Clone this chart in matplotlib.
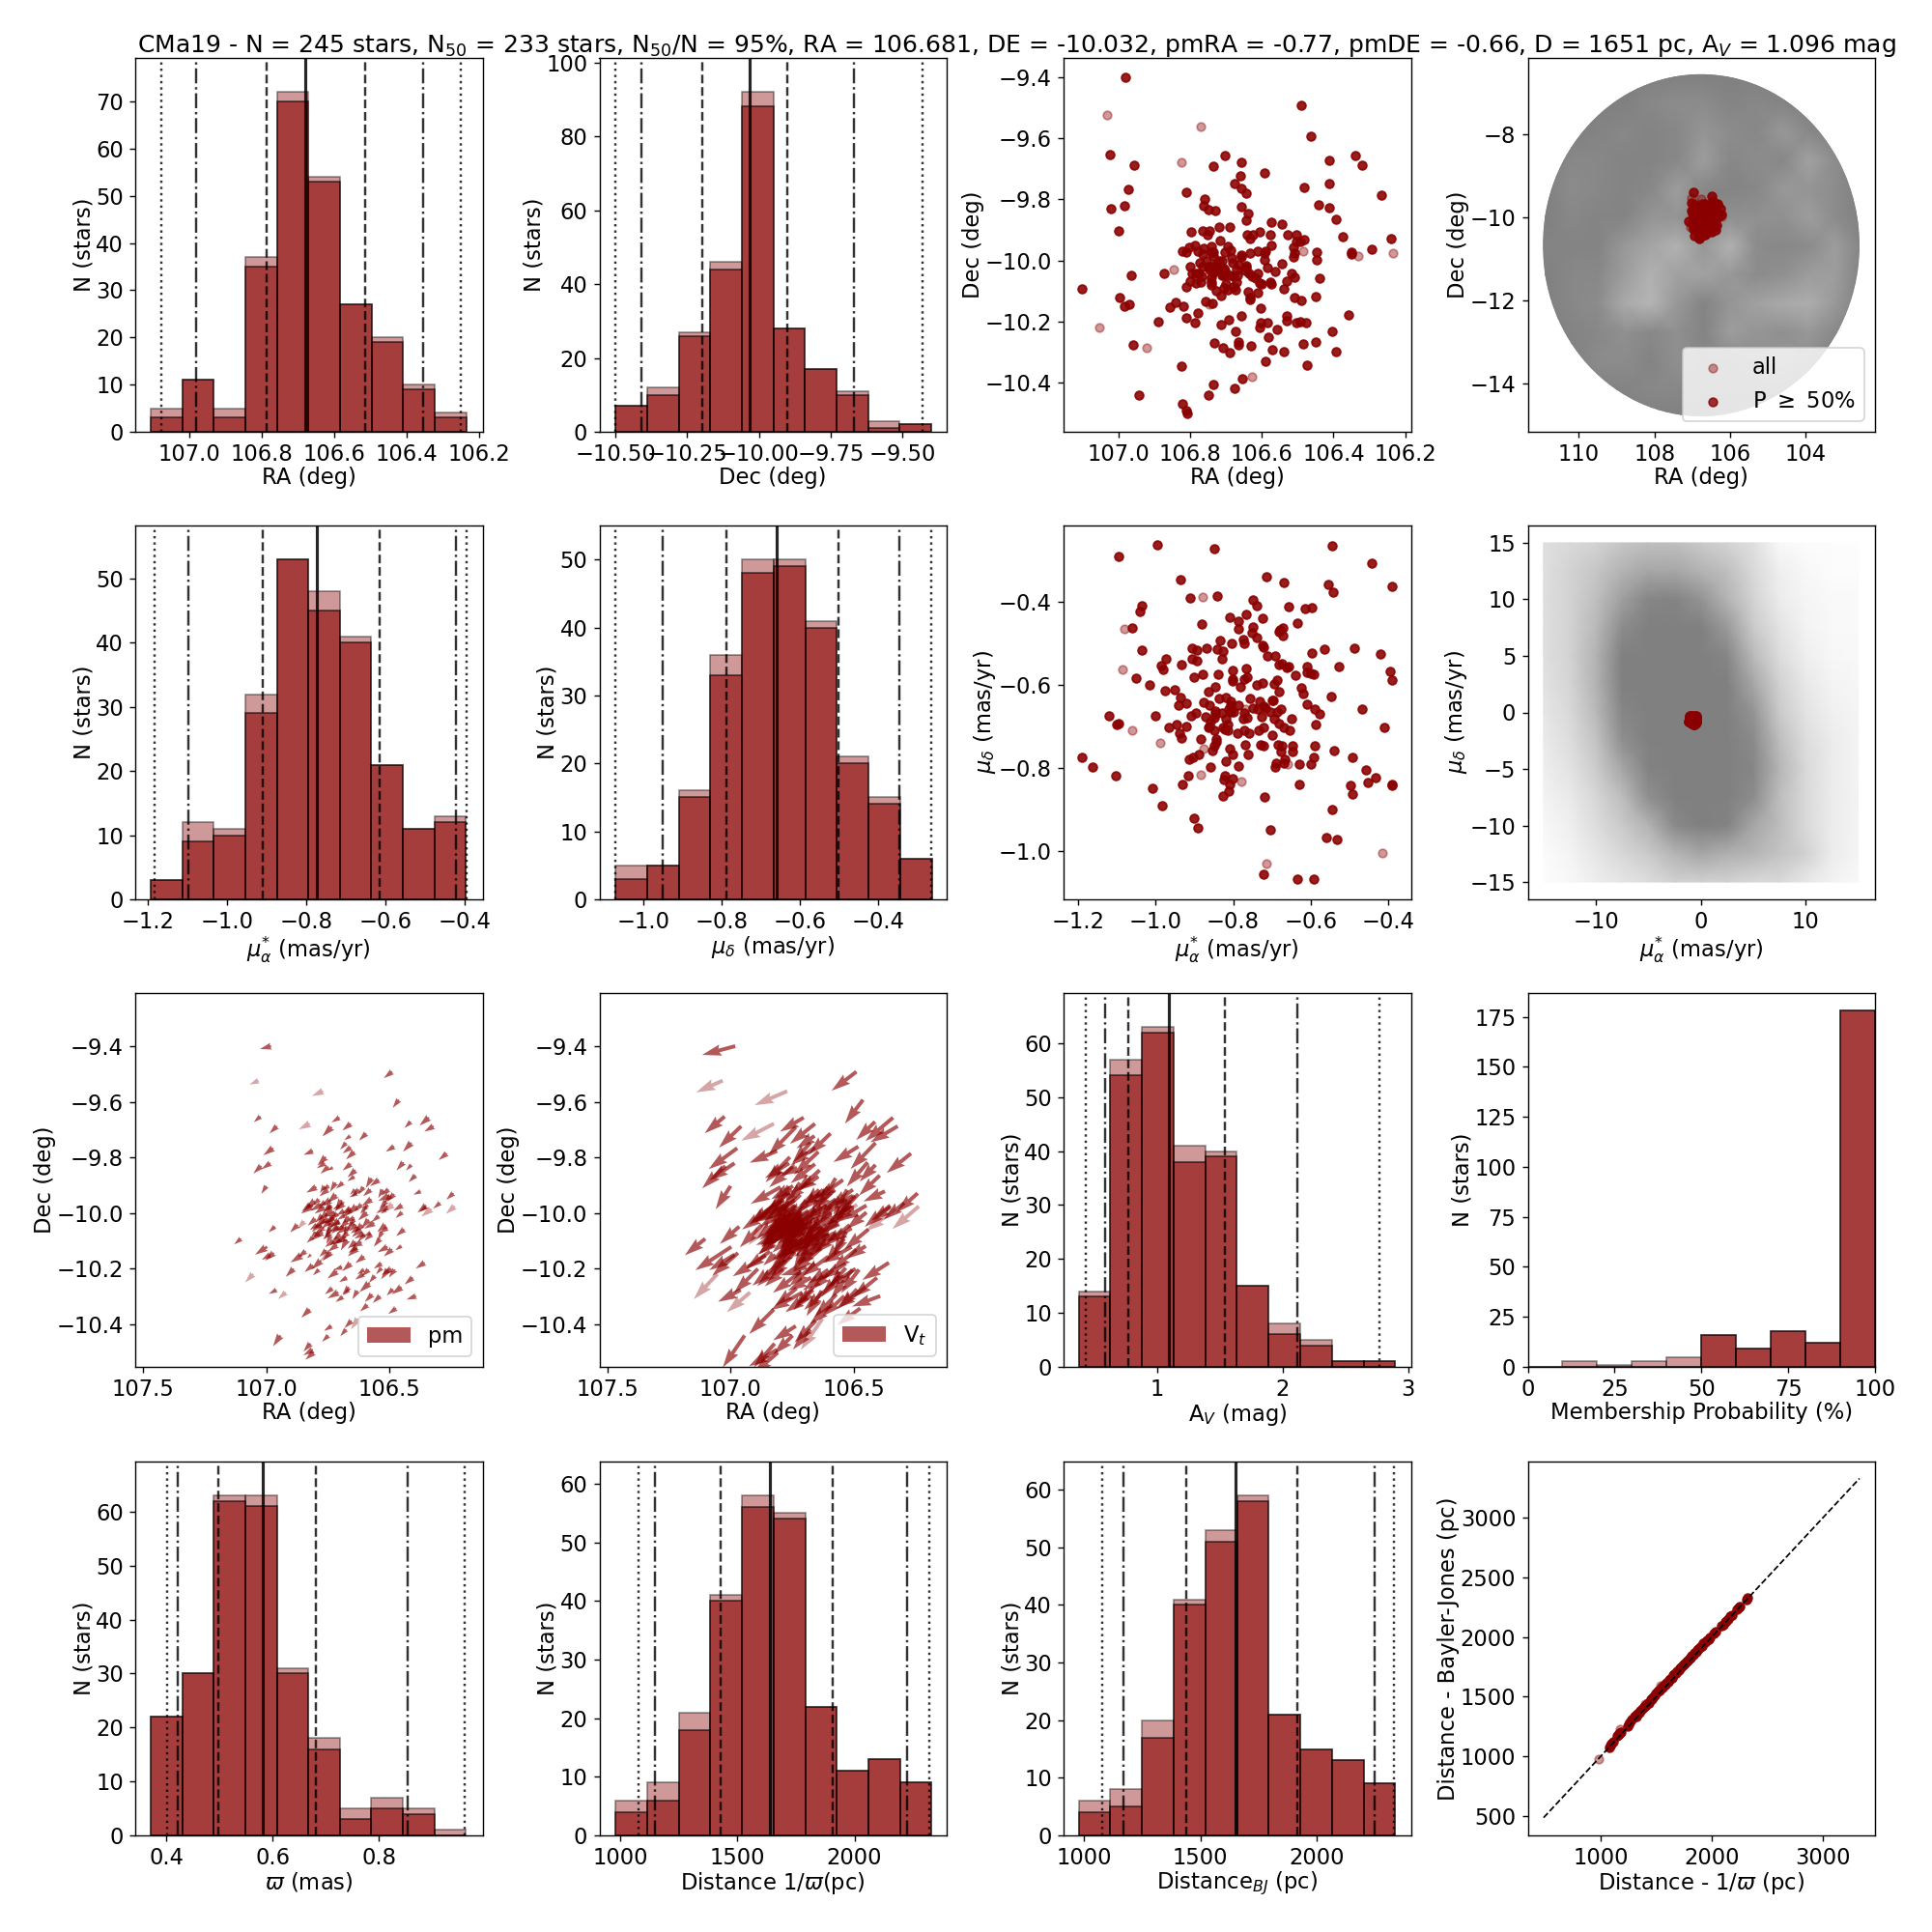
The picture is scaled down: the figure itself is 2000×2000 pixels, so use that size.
import numpy as np
import matplotlib
matplotlib.use("Agg")
import matplotlib.pyplot as plt
from matplotlib.colors import LinearSegmentedColormap
from matplotlib.patches import Ellipse

# ---------- member stars (P >= 50 %) ----------
ra_mem = [106.981,106.489,106.462,107.024,106.957,106.703,106.657,106.735,106.413,106.340,106.321,106.594,106.659,106.676,106.411,106.657,106.643,106.481,106.973,106.811,106.267,106.759,106.984,107.021,106.762,106.748,106.730,106.657,106.443,106.411,106.638,106.643,106.394,106.573,106.543,107.000,106.797,106.765,106.746,106.751,106.719,106.689,106.605,106.640,106.624,106.632,106.576,106.527,106.503,106.481,106.503,106.494,106.373,106.240,106.716,106.786,106.803,106.762,106.740,106.694,106.573,106.513,106.294,106.351,106.351,106.821,106.811,106.778,106.740,106.735,106.686,106.703,106.613,106.632,106.589,106.594,106.448,106.508,106.513,106.765,106.735,106.657,106.657,106.684,106.754,106.719,106.711,106.592,106.448,106.773,106.681,106.800,106.765,106.748,106.730,106.724,106.665,106.643,106.643,106.584,106.543,106.746,106.730,106.705,106.703,106.670,106.648,106.965,106.873,106.794,106.784,106.776,106.767,106.735,106.711,106.705,106.689,106.678,106.667,106.635,106.611,106.562,106.516,106.508,106.440,106.740,106.627,106.616,106.800,106.784,106.770,106.740,106.740,106.700,106.670,106.605,106.600,106.576,106.573,106.530,106.811,106.705,106.694,106.678,106.673,106.727,106.538,107.103,106.638,106.613,106.713,106.997,106.632,106.632,106.508,106.489,106.451,106.757,106.738,106.840,106.970,106.984,106.857,106.819,106.603,106.778,106.357,106.657,106.532,106.811,106.692,106.532,106.889,106.786,106.713,106.603,106.584,106.505,106.492,106.478,106.605,106.559,106.673,106.405,106.581,106.732,106.665,106.665,106.451,106.959,106.486,106.630,106.708,106.570,106.689,106.538,106.392,106.589,106.824,106.473,106.654,106.735,106.676,106.943,106.748,106.821,106.811,106.808]
dec_mem = [-9.400,-9.492,-9.593,-9.653,-9.688,-9.657,-9.679,-9.691,-9.672,-9.657,-9.688,-9.714,-9.723,-9.748,-9.748,-9.764,-9.780,-9.761,-9.767,-9.777,-9.786,-9.799,-9.821,-9.831,-9.821,-9.834,-9.837,-9.824,-9.818,-9.827,-9.846,-9.869,-9.865,-9.875,-9.881,-9.903,-9.907,-9.903,-9.903,-9.916,-9.891,-9.891,-9.907,-9.916,-9.916,-9.929,-9.916,-9.916,-9.916,-9.932,-9.938,-9.938,-9.922,-9.929,-9.935,-9.951,-9.957,-9.960,-9.954,-9.954,-9.951,-9.957,-9.964,-9.973,-9.979,-9.970,-9.973,-9.970,-9.973,-9.973,-9.967,-9.973,-9.970,-9.976,-9.970,-9.976,-9.973,-9.976,-9.989,-9.979,-9.986,-9.983,-9.989,-9.992,-10.002,-10.002,-10.002,-9.998,-9.998,-10.008,-10.008,-10.021,-10.021,-10.021,-10.014,-10.017,-10.014,-10.017,-10.024,-10.024,-10.011,-10.030,-10.030,-10.027,-10.033,-10.030,-10.033,-10.049,-10.043,-10.043,-10.043,-10.043,-10.052,-10.040,-10.049,-10.049,-10.049,-10.052,-10.049,-10.043,-10.043,-10.036,-10.043,-10.055,-10.059,-10.055,-10.052,-10.059,-10.068,-10.074,-10.071,-10.071,-10.081,-10.077,-10.071,-10.074,-10.077,-10.071,-10.077,-10.068,-10.087,-10.090,-10.096,-10.087,-10.096,-10.100,-10.093,-10.093,-10.103,-10.106,-10.115,-10.122,-10.122,-10.128,-10.122,-10.131,-10.119,-10.134,-10.141,-10.138,-10.144,-10.150,-10.153,-10.150,-10.157,-10.172,-10.179,-10.182,-10.182,-10.188,-10.195,-10.198,-10.201,-10.204,-10.210,-10.204,-10.204,-10.204,-10.201,-10.204,-10.220,-10.226,-10.233,-10.233,-10.252,-10.271,-10.267,-10.277,-10.267,-10.277,-10.274,-10.280,-10.286,-10.293,-10.302,-10.299,-10.299,-10.331,-10.347,-10.343,-10.388,-10.407,-10.419,-10.441,-10.441,-10.470,-10.492,-10.502]
pmra_mem = [-1.095,-0.995,-0.848,-0.544,-0.442,-0.936,-0.714,-0.669,-0.554,-0.542,-0.392,-0.911,-0.841,-0.749,-0.739,-1.035,-1.040,-0.656,-0.614,-0.597,-0.808,-0.766,-0.724,-0.786,-0.881,-0.636,-1.060,-0.786,-0.749,-0.671,-0.679,-0.681,-0.751,-0.671,-0.739,-0.833,-0.774,-0.771,-0.803,-0.724,-0.721,-1.035,-0.906,-0.893,-0.868,-0.841,-0.826,-0.597,-0.564,-0.487,-0.420,-0.711,-0.691,-0.973,-0.906,-0.893,-0.828,-0.985,-0.980,-0.933,-0.681,-0.674,-0.661,-0.656,-0.609,-0.527,-0.801,-0.766,-0.611,-0.601,-0.592,-0.901,-0.878,-0.838,-0.639,-1.050,-0.764,-0.771,-0.397,-0.390,-0.801,-0.801,-0.686,-0.724,-0.694,-0.739,-0.781,-1.015,-0.846,-0.624,-0.975,-0.951,-0.863,-0.681,-0.621,-0.936,-0.836,-0.818,-0.756,-0.547,-0.806,-0.876,-0.731,-0.699,-0.696,-0.921,-0.941,-0.861,-0.806,-0.786,-0.611,-0.749,-0.736,-0.721,-0.716,-0.676,-0.589,-0.469,-0.811,-0.806,-0.798,-0.846,-0.846,-0.896,-0.828,-0.771,-0.704,-0.686,-0.908,-0.577,-1.000,-1.120,-0.871,-0.848,-0.818,-0.774,-0.764,-0.726,-0.694,-0.649,-0.858,-1.100,-1.095,-0.946,-0.921,-0.965,-0.681,-0.863,-0.861,-0.826,-0.813,-0.721,-0.669,-0.587,-0.410,-0.821,-0.813,-0.848,-0.771,-0.734,-0.654,-0.938,-0.788,-0.759,-0.699,-0.933,-0.883,-0.843,-0.843,-0.848,-0.769,-0.729,-0.721,-0.684,-0.674,-0.646,-0.589,-0.853,-0.808,-0.676,-0.646,-0.539,-0.888,-0.801,-0.761,-0.903,-0.913,-0.666,-0.592,-0.494,-0.818,-0.689,-0.669,-0.629,-0.599,-0.858,-0.786,-0.691,-0.459,-0.821,-0.916,-0.432,-0.823,-0.801,-0.931,-0.808,-0.631,-0.499,-0.452,-0.392,-0.392,-1.008,-0.811,-0.826,-0.719,-0.983,-0.544,-0.492,-1.103,-1.162,-1.190,-0.901,-0.891,-0.704,-0.559,-0.532,-0.721,-0.636,-0.592]
pmde_mem = [-0.291,-0.263,-0.273,-0.266,-0.307,-0.347,-0.340,-0.354,-0.358,-0.377,-0.363,-0.391,-0.386,-0.395,-0.409,-0.409,-0.423,-0.412,-0.416,-0.414,-0.437,-0.430,-0.439,-0.446,-0.453,-0.451,-0.463,-0.465,-0.460,-0.463,-0.467,-0.472,-0.474,-0.481,-0.486,-0.493,-0.490,-0.500,-0.500,-0.504,-0.509,-0.516,-0.511,-0.516,-0.511,-0.513,-0.518,-0.523,-0.513,-0.511,-0.525,-0.530,-0.530,-0.537,-0.537,-0.541,-0.537,-0.553,-0.562,-0.551,-0.551,-0.548,-0.557,-0.555,-0.555,-0.555,-0.564,-0.560,-0.569,-0.571,-0.574,-0.581,-0.574,-0.574,-0.576,-0.583,-0.581,-0.585,-0.567,-0.588,-0.585,-0.590,-0.588,-0.595,-0.597,-0.601,-0.604,-0.601,-0.604,-0.606,-0.613,-0.611,-0.615,-0.615,-0.620,-0.629,-0.632,-0.629,-0.632,-0.627,-0.639,-0.641,-0.639,-0.636,-0.636,-0.643,-0.648,-0.648,-0.648,-0.648,-0.646,-0.655,-0.659,-0.652,-0.655,-0.657,-0.657,-0.659,-0.659,-0.664,-0.664,-0.662,-0.669,-0.666,-0.666,-0.666,-0.664,-0.664,-0.673,-0.669,-0.673,-0.673,-0.676,-0.678,-0.680,-0.680,-0.678,-0.676,-0.680,-0.680,-0.687,-0.694,-0.692,-0.694,-0.699,-0.701,-0.692,-0.701,-0.699,-0.701,-0.695,-0.701,-0.703,-0.694,-0.703,-0.706,-0.710,-0.710,-0.710,-0.710,-0.708,-0.715,-0.717,-0.717,-0.720,-0.727,-0.729,-0.729,-0.736,-0.747,-0.743,-0.743,-0.747,-0.743,-0.747,-0.745,-0.747,-0.757,-0.754,-0.761,-0.759,-0.757,-0.766,-0.766,-0.766,-0.773,-0.778,-0.778,-0.773,-0.773,-0.784,-0.787,-0.787,-0.789,-0.791,-0.796,-0.794,-0.798,-0.805,-0.817,-0.819,-0.822,-0.828,-0.826,-0.840,-0.838,-0.840,-0.842,-0.835,-0.838,-0.842,-0.849,-0.854,-0.866,-0.870,-0.891,-0.900,-0.861,-0.819,-0.798,-0.773,-0.921,-0.944,-0.949,-0.967,-0.972,-1.055,-1.067,-1.067]
# ---------- stars with P < 50 % ----------
ra_low = [107.032,106.770,106.824,106.486,106.330,106.235,106.846,106.746,107.054,106.921,106.627,106.745]
dec_low = [-9.524,-9.562,-9.679,-9.970,-9.986,-9.976,-10.030,-10.144,-10.220,-10.286,-10.381,-10.060]
pmra_low = [-0.878,-1.080,-1.085,-1.060,-0.988,-0.876,-0.659,-0.883,-0.778,-0.769,-0.714,-0.417]
pmde_low = [-0.388,-0.465,-0.562,-0.708,-0.738,-0.754,-0.791,-0.815,-0.831,-0.659,-1.028,-1.004]
# ---------- distances ----------
dist_plx_mem = [1075,1085,1095,1110,1150,1155,1165,1172,1180,1240,1250,1262,1280,1300,1312,1322,1333,1345,1360,1375,1390,1402,1412,1424,1436,1448,1460,1472,1484,1496,1508,1520,1532,1544,1556,1568,1580,1592,1604,1616,1628,1640,1652,1664,1676,1688,1700,1712,1724,1736,1748,1760,1772,1784,1796,1808,1820,1832,1844,1856,1868,1880,1895,1910,1925,1940,1955,1970,1985,2020,2032,2090,2102,2118,2132,2150,2168,2180,2230,2242,2255,2310,2325]
dist_bj_mem = [1075,1090,1105,1120,1170,1178,1190,1195,1200,1255,1268,1282,1305,1330,1340,1335,1360,1365,1385,1395,1410,1425,1430,1445,1450,1475,1480,1495,1510,1525,1540,1550,1555,1575,1575,1590,1600,1615,1625,1640,1650,1660,1680,1690,1700,1710,1725,1735,1750,1760,1770,1780,1795,1805,1815,1830,1840,1850,1865,1875,1890,1900,1915,1925,1945,1960,1970,1985,2000,2030,2045,2095,2105,2125,2135,2150,2175,2185,2235,2245,2255,2315,2330]
dist_plx_low = [985,1160,1172,1355,1400,1540,1575]
dist_bj_low = [975,1195,1225,1385,1440,1590,1600]

# ---------- histograms: bin range, counts (all / members), percentile lines ----------
ra_bins, dec_bins = (107.105, 106.235), (-10.50, -9.40)
ra_all, ra_p50 = [5,11,5,37,72,54,27,20,10,4], [3,11,3,35,70,53,27,19,9,3]
dec_all, dec_p50 = [7,12,27,46,92,28,17,11,3,2], [7,10,26,44,88,28,17,10,1,2]
ra_lines = [106.678, 106.786, 106.514, 106.981, 106.353, 107.077, 106.251]
dec_lines = [-10.032, -10.198, -9.903, -10.41, -9.669, -10.50, -9.43]

pmra_bins, pmde_bins = (-1.193, -0.396), (-1.071, -0.262)
pmra_all, pmra_p50 = [3,12,11,32,53,48,41,21,11,13], [3,9,10,29,53,45,40,21,11,12]
pmde_all, pmde_p50 = [5,5,16,36,50,50,41,21,15,6], [3,5,15,33,48,49,40,20,14,6]
pmra_lines = [-0.773, -0.909, -0.614, -1.097, -0.422, -1.183, -0.394]
pmde_lines = [-0.659, -0.787, -0.501, -0.950, -0.346, -1.071, -0.263]

av_bins = (0.370, 2.898)
av_all, av_p50 = [14,57,63,41,40,15,8,5,1,1], [13,54,62,38,39,15,6,4,1,1]
av_lines = [1.088, 0.764, 1.537, 0.579, 2.116, 0.426, 2.773]

prob_bins = (0, 100)
prob_all, prob_p50 = [0,3,1,3,5,16,9,18,12,178], [0,0,0,0,0,16,9,18,12,178]

plx_bins = (0.371, 0.964)
plx_all, plx_p50 = [22,30,63,63,31,18,5,7,5,1], [22,30,62,61,30,16,3,5,4,0]
plx_lines = [0.581, 0.497, 0.682, 0.421, 0.854, 0.401, 0.962]

d1_bins = (978.6, 2330)
d1_all, d1_p50 = [6,9,21,41,58,55,22,11,13,9], [4,6,18,40,56,54,22,11,13,9]
d1_lines = [1637, 1428, 1905, 1147, 2226, 1076, 2321]

d2_bins = (978, 2336)
d2_all, d2_p50 = [6,8,20,41,53,59,21,15,13,9], [4,5,17,40,51,58,21,15,13,9]
d2_lines = [1652, 1438, 1915, 1169, 2249, 1077, 2331]

distance_pc = 1651.0

# ---------- field-star density (too many stars to list) ----------
sky_ra_nodes = [110.9,110.2,109.5,108.8,108.1,107.4,106.7,106.0,105.3,104.6,103.9,103.2,102.5]
sky_de_nodes = [-6.55,-7.24,-7.93,-8.62,-9.31,-10.00,-10.69,-11.38,-12.07,-12.76,-13.45,-14.14,-14.83]
sky_lightness = [
 [0,0,0,0,0,0,0,0,0,0,0,0,0],
 [0,0,0,0,.10,.15,.15,.05,.10,.05,0,0,0],
 [0,0,.05,.10,.05,.10,.25,.15,.10,.30,.10,0,0],
 [0,.10,.10,.05,.05,.10,.35,.10,.15,.10,.40,.15,0],
 [0,.15,.10,.05,.10,.35,.10,.05,.10,.30,.25,.15,0],
 [0,.10,.05,.05,.25,.25,.10,.20,.20,.20,.35,.15,0],
 [.05,.05,.05,.30,.45,.60,.30,.60,.15,.10,.15,.35,.05],
 [0,.10,.10,.35,.60,.40,.40,.30,.15,.20,.35,.35,0],
 [0,.10,.15,.50,.65,.30,.05,.25,.40,.50,.55,.30,0],
 [0,.05,.10,.20,.10,.20,.05,.35,.25,.20,.30,.10,0],
 [0,0,.15,.15,.05,.20,.10,.10,.20,.30,.15,0,0],
 [0,0,0,.05,.10,.10,.05,.05,.05,.05,0,0,0],
 [0,0,0,0,0,0,0,0,0,0,0,0,0]]
sky_center, sky_width, sky_height = (106.77, -10.66), 8.36, 8.22

pm_x_nodes = [-15,-12.5,-10,-7.5,-5,-2.5,0,2.5,5,7.5,10,12.5,15]
pm_y_nodes = [15,12.5,10,7.5,5,2.5,0,-2.5,-5,-7.5,-10,-12.5,-15]
pm_cover = [
 [.25,.30,.35,.45,.50,.50,.42,.35,.25,.06,.03,.02,.02],
 [.25,.35,.45,.60,.70,.70,.60,.50,.30,.13,.06,.03,.03],
 [.25,.35,.50,.75,.95,.97,.85,.60,.35,.15,.08,.05,.05],
 [.25,.35,.55,.90,1,1,1,.80,.42,.22,.10,.05,.05],
 [.25,.35,.60,1,1,1,1,.95,.55,.28,.13,.07,.05],
 [.22,.33,.60,1,1,1,1,1,.70,.36,.18,.09,.07],
 [.20,.30,.55,.95,1,1,1,1,.85,.42,.22,.12,.08],
 [.16,.27,.47,.88,1,1,1,1,.92,.52,.27,.15,.09],
 [.13,.22,.40,.70,.97,1,1,1,.95,.58,.30,.15,.09],
 [.10,.17,.32,.52,.88,1,1,1,.90,.52,.30,.15,.10],
 [.06,.13,.27,.42,.60,.92,1,.97,.70,.52,.30,.15,.09],
 [.03,.09,.20,.32,.42,.58,.70,.62,.58,.47,.36,.15,.08],
 [.02,.06,.14,.20,.27,.36,.36,.36,.30,.30,.18,.10,.05]]

plt.rcParams.update({"font.size": 13, "legend.fontsize": 13, "axes.labelpad": 0.5})
fig = plt.figure(figsize=(16, 16), dpi=125)
COLS = [140, 620.5, 1101, 1581.5]
ROWS = [60, 544, 1028, 1513]
W, H = 359.5, 387
MARK = 25

def panel(r, c):
    return fig.add_axes([COLS[c] / 2000, 1 - (ROWS[r] + H) / 2000, W / 2000, H / 2000])

def hist(ax, bins, all_c, mem_c, lines, xlabel, xlim, headroom=1.1, ylabel="N (stars)"):
    e = np.sort(np.linspace(bins[0], bins[1], len(all_c) + 1))
    if bins[0] > bins[1]:
        all_c, mem_c = all_c[::-1], mem_c[::-1]
    ax.hist(e[:-1], bins=e, weights=all_c, color="darkred", alpha=0.4, ec="black")
    ax.hist(e[:-1], bins=e, weights=mem_c, color="darkred", alpha=0.6, ec="black")
    if lines:
        ax.axvline(lines[0], color="k", ls="-", lw=1.8, alpha=0.85)
        for v, ls in zip(lines[1:], ["--", "--", "-.", "-.", ":", ":"]):
            ax.axvline(v, color="k", ls=ls, lw=1.4, alpha=0.8)
    ax.set_xlim(*xlim)
    ax.set_ylim(0, headroom * max(all_c))
    ax.set_xlabel(xlabel)
    ax.set_ylabel(ylabel)
    return ax

def scat(ax, x_mem, y_mem, x_low, y_low, labels=False):
    ax.scatter(list(x_mem) + list(x_low), list(y_mem) + list(y_low), s=MARK, color="darkred",
               alpha=0.4, zorder=3, label="all" if labels else None)
    ax.scatter(x_mem, y_mem, s=MARK, color="darkred", alpha=0.8, zorder=4,
               label=r"P $\geq$ 50%" if labels else None)

RA_X = r"RA (deg)"
DE_Y = r"Dec (deg)"
MUA = r"$\mu_{\alpha}^{*}$ (mas/yr)"
MUD = r"$\mu_{\delta}$ (mas/yr)"

# row 1
hist(panel(0, 0), ra_bins, ra_all, ra_p50, ra_lines, RA_X, (107.148, 106.19)).set_xticks([107.0, 106.8, 106.6, 106.4, 106.2])
hist(panel(0, 1), dec_bins, dec_all, dec_p50, dec_lines, "Dec (deg)", (-10.556, -9.346)).set_xticks([-10.5, -10.25, -10.0, -9.75, -9.5])
ax = panel(0, 2)
scat(ax, ra_mem, dec_mem, ra_low, dec_low)
ax.set_xlim(107.154, 106.184); ax.set_ylim(-10.561, -9.337)
ax.set_xticks([107.0, 106.8, 106.6, 106.4, 106.2]); ax.set_yticks([-9.4, -9.6, -9.8, -10.0, -10.2, -10.4])
ax.set_xlabel(RA_X); ax.set_ylabel(DE_Y)

ax = panel(0, 3)
sky_cmap = LinearSegmentedColormap.from_list("sky", ["#808080", "#d2d2d2"])
disc = Ellipse(sky_center, sky_width, sky_height, fc="#808080", ec="none", zorder=1)
ax.add_patch(disc)
mesh = ax.pcolormesh(sky_ra_nodes, sky_de_nodes, np.array(sky_lightness), shading="gouraud",
                     cmap=sky_cmap, vmin=0, vmax=1, zorder=2)
mesh.set_clip_path(disc)
scat(ax, ra_mem, dec_mem, ra_low, dec_low, labels=True)
ax.set_xlim(111.35, 102.17); ax.set_ylim(-15.15, -6.16)
ax.set_xticks([110, 108, 106, 104]); ax.set_yticks([-8, -10, -12, -14])
ax.set_xlabel(RA_X); ax.set_ylabel(DE_Y)
ax.legend(loc="lower right")

# row 2
hist(panel(1, 0), pmra_bins, pmra_all, pmra_p50, pmra_lines, MUA, (-1.232, -0.354)).set_xticks([-1.2, -1.0, -0.8, -0.6, -0.4])
hist(panel(1, 1), pmde_bins, pmde_all, pmde_p50, pmde_lines, MUD, (-1.112, -0.224)).set_xticks([-1.0, -0.8, -0.6, -0.4])
ax = panel(1, 2)
scat(ax, pmra_mem, pmde_mem, pmra_low, pmde_low)
ax.set_xlim(-1.237, -0.3424); ax.set_ylim(-1.115, -0.217)
ax.set_xticks([-1.2, -1.0, -0.8, -0.6, -0.4]); ax.set_yticks([-0.4, -0.6, -0.8, -1.0])
ax.set_xlabel(MUA); ax.set_ylabel(MUD)

ax = panel(1, 3)
pm_cmap = LinearSegmentedColormap.from_list("pm", ["#ffffff", "#808080"])
ax.pcolormesh(pm_x_nodes, pm_y_nodes, np.array(pm_cover), shading="gouraud", cmap=pm_cmap,
              vmin=0, vmax=1, zorder=1)
scat(ax, pmra_mem, pmde_mem, pmra_low, pmde_low)
ax.set_xlim(-16.5, 16.6); ax.set_ylim(-16.53, 16.53)
ax.set_xticks([-10, 0, 10]); ax.set_yticks([-15, -10, -5, 0, 5, 10, 15])
ax.set_xlabel(MUA); ax.set_ylabel(MUD)

# row 3
n = min(len(ra_mem), len(pmra_mem))
order = [(i * 97) % len(pmra_mem) for i in range(n)]   # which star has which motion is not readable
pm_x = np.array(pmra_mem)[order]
pm_y = np.array(pmde_mem)[order]
pm_kms = 4.74 * distance_pc / 1000.0
for col, factor, scale, wid, lab in [(0, 1.0, 34, 0.0075, "pm"), (1, pm_kms, 90, 0.011, r"V$_{t}$")]:
    ax = panel(2, col)
    ax.quiver(ra_low, dec_low, np.array(pmra_low) * factor, np.array(pmde_low) * factor,
              color="darkred", alpha=0.35, scale=scale, width=wid)
    ax.quiver(ra_mem[:n], dec_mem[:n], pm_x * factor, pm_y * factor,
              color="darkred", alpha=0.65, scale=scale, width=wid, label=lab)
    ax.set_xlim(107.533, 106.122); ax.set_ylim(-10.554, -9.209)
    ax.set_xticks([107.5, 107.0, 106.5]); ax.set_yticks([-9.4, -9.6, -9.8, -10.0, -10.2, -10.4])
    ax.set_xlabel(RA_X); ax.set_ylabel(DE_Y)
    ax.legend(loc="lower right")
hist(panel(2, 2), av_bins, av_all, av_p50, av_lines, r"A$_{V}$ (mag)", (0.25, 3.023)).set_xticks([1, 2, 3])
ax = hist(panel(2, 3), prob_bins, prob_all, prob_p50, None, "Membership Probability (%)", (0, 100), headroom=1.05)
ax.set_xticks([0, 25, 50, 75, 100]); ax.set_yticks([0, 25, 50, 75, 100, 125, 150, 175])

# row 4
hist(panel(3, 0), plx_bins, plx_all, plx_p50, plx_lines, r"$\varpi$ (mas)", (0.3415, 0.9953)).set_xticks([0.4, 0.6, 0.8])
hist(panel(3, 1), d1_bins, d1_all, d1_p50, d1_lines, r"Distance 1/$\varpi$(pc)", (910, 2394)).set_xticks([1000, 1500, 2000])
hist(panel(3, 2), d2_bins, d2_all, d2_p50, d2_lines, r"Distance$_{BJ}$ (pc)", (913, 2403)).set_xticks([1000, 1500, 2000])
ax = panel(3, 3)
scat(ax, dist_plx_mem, dist_bj_mem, dist_plx_low, dist_bj_low)
ax.plot([485, 3330], [485, 3330], color="k", ls="--", lw=1, zorder=5)
ax.set_xlim(342, 3470); ax.set_ylim(336, 3472)
ax.set_xticks([1000, 2000, 3000]); ax.set_yticks([500, 1000, 1500, 2000, 2500, 3000])
ax.set_xlabel(r"Distance - 1/$\varpi$ (pc)"); ax.set_ylabel("Distance - Bayler-Jones (pc)")

fig.text(1052 / 2000, 1 - 54 / 2000, r"CMa19 - N = 245 stars, N$_{50}$ = 233 stars, N$_{50}$/N = 95%, RA = 106.681, "
         r"DE = -10.032, pmRA = -0.77, pmDE = -0.66, D = 1651 pc, A$_{V}$ = 1.096 mag",
         ha="center", va="baseline", fontsize=14.39)

fig.savefig("out.png", dpi=125)
